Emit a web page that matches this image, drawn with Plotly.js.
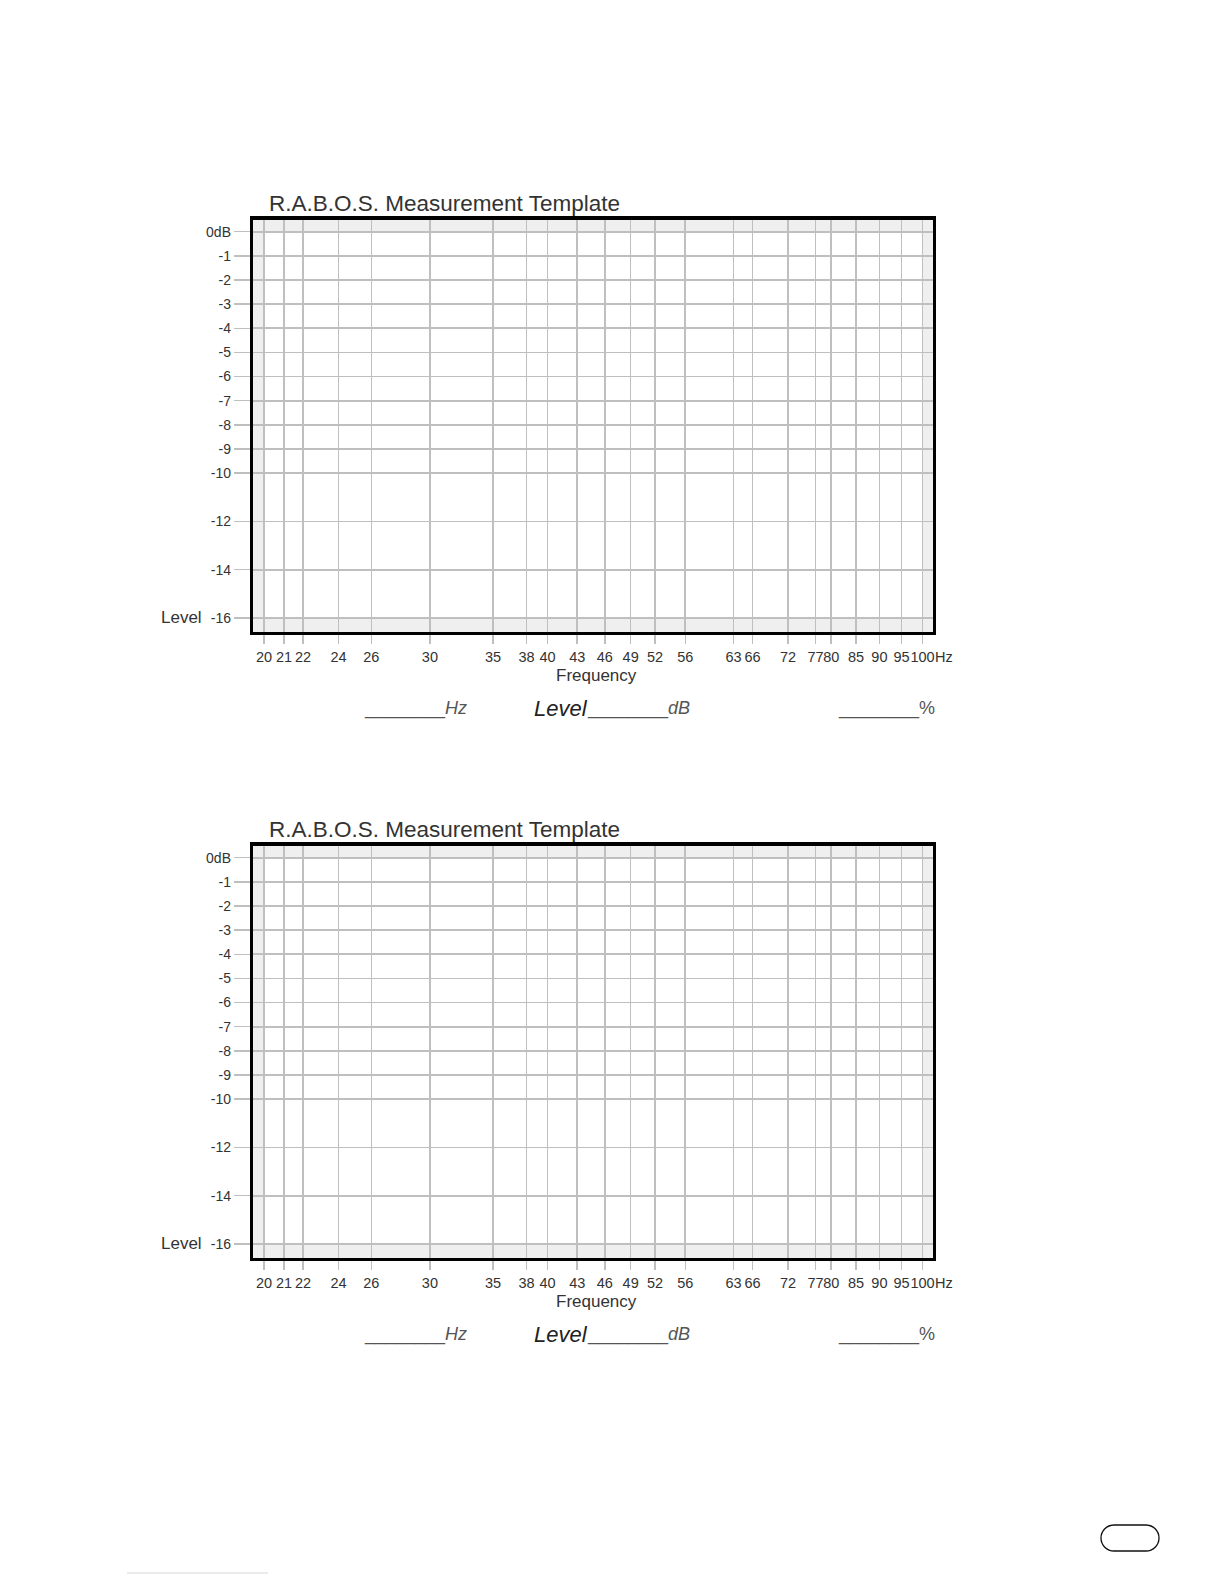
<!DOCTYPE html>
<html>
<head>
<meta charset="utf-8">
<script src="https://cdn.plot.ly/plotly-3.0.1.min.js"></script>
<style>
  html, body { margin: 0; padding: 0; background: #ffffff; }
  #chart { width: 1224px; height: 1584px; }
</style>
</head>
<body>
<div id="chart"></div>
<script>
// ---- data ----
const chartTitle = 'R.A.B.O.S. Measurement Template';
const freqTicks = [20, 21, 22, 24, 26, 30, 35, 38, 40, 43, 46, 49, 52, 56, 63, 66, 72, 77, 80, 85, 90, 95, 100];
const freqLabels = ['20', '21', '22', '24', '26', '30', '35', '38', '40', '43', '46', '49', '52', '56', '63', '66', '72', '77', '80', '85', '90', '95', '100'];
const levelTicks = [0, -1, -2, -3, -4, -5, -6, -7, -8, -9, -10, -12, -14, -16];
const levelLabels = ['0dB', '-1', '-2', '-3', '-4', '-5', '-6', '-7', '-8', '-9', '-10', '-12', '-14', '-16'];
const xAxisTitle = 'Frequency';
const yAxisTitle = 'Level';
const freqUnit = 'Hz';
const levelUnit = 'dB';
const percentUnit = '%';
const fieldLabel = 'Level';

// ---- layout helpers ----
const W = 1224, H = 1584;
const px = v => v / W;
const py = v => 1 - v / H;
const FONT = 'Liberation Sans, Arial, Helvetica, sans-serif';
const GRID = '#bfbfbf';
const OFFSET = 626; // vertical distance between the two templates

function xAxisDef(anchor) {
  return {
    type: 'log',
    range: [1.28935, 2.01115],
    domain: [px(253), px(933)],
    anchor: anchor,
    tickmode: 'array',
    tickvals: freqTicks,
    ticktext: freqLabels,
    tickangle: 0,
    ticks: 'outside',
    ticklen: 9,
    tickwidth: 1.5,
    tickcolor: GRID,
    showgrid: true,
    gridcolor: GRID,
    gridwidth: 1.7,
    zeroline: false,
    showline: true,
    linecolor: '#000000',
    linewidth: 3.2,
    mirror: true,
    tickfont: { family: FONT, size: 14.5, color: '#333333' },
    fixedrange: true
  };
}
function yAxisDef(anchor, top) {
  return {
    range: [-16.58, 0.505],
    domain: [py(top + 412.5), py(top)],
    anchor: anchor,
    tickmode: 'array',
    tickvals: levelTicks,
    ticktext: levelLabels,
    ticks: 'outside',
    ticklen: 16,
    tickwidth: 1.5,
    tickcolor: GRID,
    showgrid: true,
    gridcolor: GRID,
    gridwidth: 1.7,
    zeroline: false,
    showline: true,
    linecolor: '#000000',
    linewidth: 3.2,
    mirror: true,
    tickfont: { family: FONT, size: 14, color: '#333333' },
    fixedrange: true
  };
}

const annotations = [];
const shapes = [];
const subplots = [{ xa: 'x', ya: 'y' }, { xa: 'x2', ya: 'y2' }];

subplots.forEach((sp, i) => {
  const o = i * OFFSET;
  // white grid field inside light-grey band
  shapes.push({
    type: 'rect', xref: sp.xa, yref: sp.ya,
    x0: freqTicks[0], x1: freqTicks[freqTicks.length - 1],
    y0: levelTicks[levelTicks.length - 1], y1: levelTicks[0],
    fillcolor: '#ffffff', line: { width: 0 }, layer: 'below'
  });
  // title
  annotations.push({
    xref: 'paper', yref: 'paper', x: px(267), y: py(203.5 + o),
    xanchor: 'left', yanchor: 'middle', showarrow: false,
    text: chartTitle, font: { family: FONT, size: 22.5, color: '#333333' }
  });
  // "Hz" after 100
  annotations.push({
    xref: sp.xa, yref: 'paper', x: Math.log10(freqTicks[freqTicks.length - 1]), xshift: 10,
    y: py(656.8 + o), xanchor: 'left', yanchor: 'middle', showarrow: false,
    text: freqUnit, font: { family: FONT, size: 14.5, color: '#333333' }
  });
  // x axis title
  annotations.push({
    xref: 'paper', yref: 'paper', x: px(596), y: py(675 + o),
    xanchor: 'center', yanchor: 'middle', showarrow: false,
    text: xAxisTitle, font: { family: FONT, size: 17, color: '#333333' }
  });
  // y axis title "Level"
  annotations.push({
    xref: 'paper', yref: 'paper', x: px(204), y: py(617 + o),
    xanchor: 'right', yanchor: 'middle', showarrow: false,
    text: yAxisTitle, font: { family: FONT, size: 17, color: '#333333' }
  });
  // fill-in fields
  annotations.push({
    xref: 'paper', yref: 'paper', x: px(362), y: py(708.5 + o),
    xanchor: 'left', yanchor: 'middle', showarrow: false,
    text: '________<i>' + freqUnit + '</i>', font: { family: FONT, size: 18, color: '#555555' }
  });
  annotations.push({
    xref: 'paper', yref: 'paper', x: px(590), y: py(708 + o),
    xanchor: 'right', yanchor: 'middle', showarrow: false,
    text: '<i>' + fieldLabel + '</i>', font: { family: FONT, size: 22, color: '#222222' }
  });
  annotations.push({
    xref: 'paper', yref: 'paper', x: px(585), y: py(708.5 + o),
    xanchor: 'left', yanchor: 'middle', showarrow: false,
    text: '________<i>' + levelUnit + '</i>', font: { family: FONT, size: 18, color: '#555555' }
  });
  annotations.push({
    xref: 'paper', yref: 'paper', x: px(836), y: py(708.5 + o),
    xanchor: 'left', yanchor: 'middle', showarrow: false,
    text: '________' + percentUnit, font: { family: FONT, size: 18, color: '#555555' }
  });
});

// page decorations: rounded page-number box and footer rule
function P(x, y) { return px(x).toFixed(5) + ',' + py(y).toFixed(5); }
const ox0 = 1101, ox1 = 1159, oy0 = 1525, oy1 = 1551, r = 13, k = 0.5523 * r;
const ovalPath =
  'M' + P(ox0 + r, oy0) + ' L' + P(ox1 - r, oy0) +
  ' C' + P(ox1 - r + k, oy0) + ' ' + P(ox1, oy0 + r - k) + ' ' + P(ox1, oy0 + r) +
  ' C' + P(ox1, oy0 + r + k) + ' ' + P(ox1 - r + k, oy1) + ' ' + P(ox1 - r, oy1) +
  ' L' + P(ox0 + r, oy1) +
  ' C' + P(ox0 + r - k, oy1) + ' ' + P(ox0, oy0 + r + k) + ' ' + P(ox0, oy0 + r) +
  ' C' + P(ox0, oy0 + r - k) + ' ' + P(ox0 + r - k, oy0) + ' ' + P(ox0 + r, oy0) + ' Z';
shapes.push({ type: 'path', xref: 'paper', yref: 'paper', path: ovalPath, line: { color: '#111111', width: 1.3 } });
shapes.push({ type: 'line', xref: 'paper', yref: 'paper', x0: px(127), x1: px(268), y0: py(1573), y1: py(1573), line: { color: '#d6d6d6', width: 1 } });

const traces = subplots.map(sp => ({
  type: 'scatter', mode: 'lines', x: [], y: [], xaxis: sp.xa, yaxis: sp.ya,
  hoverinfo: 'skip', showlegend: false
}));

const layout = {
  width: W, height: H,
  margin: { l: 0, r: 0, t: 0, b: 0, pad: 0 },
  paper_bgcolor: '#ffffff',
  plot_bgcolor: '#efefef',
  showlegend: false,
  xaxis: xAxisDef('y'),
  yaxis: yAxisDef('x', 219.5),
  xaxis2: xAxisDef('y2'),
  yaxis2: yAxisDef('x2', 219.5 + OFFSET),
  annotations: annotations,
  shapes: shapes
};

Plotly.newPlot('chart', traces, layout, { staticPlot: true, displayModeBar: false });
</script>
</body>
</html>
